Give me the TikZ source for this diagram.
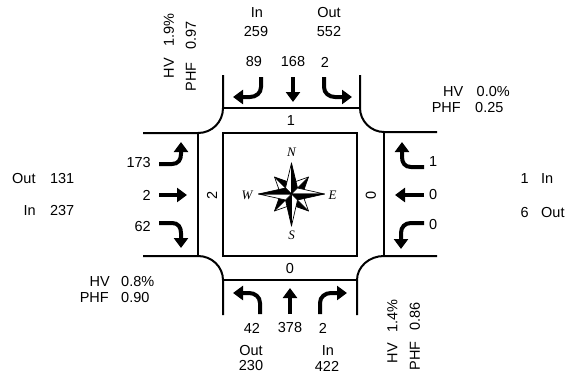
\documentclass[tikz,border=0pt]{standalone}
\usepackage{fontspec}
\setmainfont{Liberation Sans}
\newfontfamily\compassfont{Liberation Serif}
\usetikzlibrary{arrows.meta}
\begin{document}
\begin{tikzpicture}[x=1pt,y=-1pt,
  road/.style={line width=2pt},
  mv/.style={line width=4pt,-{Triangle[width=14pt,length=10pt]}},
  lbl/.style={inner sep=0pt,font=\fontsize{14.5}{17}\selectfont},
  cmp/.style={inner sep=0pt,font=\compassfont\itshape\fontsize{13}{15}\selectfont},
  rosew/.style={fill=white,draw=black,line width=0.7pt,line join=round},
  roseb/.style={fill=black,draw=black,line width=0.7pt,line join=round}
]
\useasboundingbox (0,0) rectangle (574,383);

% road edges with curved corners
\draw[road] (223,75) -- (223,108) .. controls (223,122) and (212,133) .. (198,133) -- (143,133);
\draw[road] (360,75) -- (360,108) .. controls (360,121) and (371,132) .. (384,132) -- (437,132);
\draw[road] (437,256) -- (384,256) .. controls (369,256) and (357,267) .. (357,280) -- (357,315);
\draw[road] (223,315) -- (223,280) .. controls (223,267) and (212,256) .. (198,256) -- (143,256);
% stop bars
\draw[road] (223,108) -- (360,108);
\draw[road] (384,132) -- (384,256);
\draw[road] (223,280) -- (357,280);
\draw[road] (198,133) -- (198,256);
% inner square
\draw[line width=2.4pt] (223,133) rectangle (357,256);

% lane counts
\node[lbl] (lnN) at (291,121) {1};
\node[lbl] (lnS) at (290,269) {0};
\node[lbl,rotate=90] (lnW) at (212,195) {2};
\node[lbl,rotate=90] (lnE) at (371,195) {0};

% north approach
\node[lbl] (nIn) at (257,13) {In};
\node[lbl] (nInV) at (256,32) {259};
\node[lbl] (nOut) at (329,13) {Out};
\node[lbl] (nOutV) at (329,32) {552};
\node[lbl] (nR) at (254,62) {89};
\node[lbl] (nT) at (293,62) {168};
\node[lbl] (nL) at (325,62) {2};
\draw[mv] (261,77) -- (261,87) .. controls (261,93) and (256,97) .. (250,97) -- (233,97);
\draw[mv] (293,77) -- (293,102);
\draw[mv] (324,77) -- (324,87) .. controls (324,93) and (329,97) .. (335,97) -- (352,97);

% south approach
\draw[mv] (260,314) -- (260,303) .. controls (260,297) and (255,293) .. (249,293) -- (233,293);
\draw[mv] (290,314) -- (290,288);
\draw[mv] (320,314) -- (320,303) .. controls (320,297) and (325,293) .. (331,293) -- (347,293);
\node[lbl] (sL) at (252,328) {42};
\node[lbl] (sT) at (290,328) {378};
\node[lbl] (sR) at (323,328) {2};
\node[lbl] (sOut) at (251,351) {Out};
\node[lbl] (sOutV) at (251,366) {230};
\node[lbl] (sIn) at (328,351) {In};
\node[lbl] (sInV) at (327,366) {422};

% west approach
\draw[mv] (159,164) -- (172,164) .. controls (178,164) and (181,160) .. (181,154) -- (181,142);
\draw[mv] (159,195) -- (187,195);
\draw[mv] (159,223) -- (172,223) .. controls (178,223) and (181,227) .. (181,233) -- (181,248);
\node[lbl,anchor=east] (wL) at (151,163) {173};
\node[lbl,anchor=east] (wT) at (151,195) {2};
\node[lbl,anchor=east] (wR) at (151,227) {62};
\node[lbl,anchor=west] (wOut) at (12,179) {Out};
\node[lbl,anchor=east] (wOutV) at (74.5,179) {131};
\node[lbl,anchor=west] (wIn) at (23.5,211) {In};
\node[lbl,anchor=east] (wInV) at (74.5,211) {237};

% east approach
\draw[mv] (424,167) -- (411,167) .. controls (405,167) and (402,163) .. (402,157) -- (402,142);
\draw[mv] (424,195) -- (395,195);
\draw[mv] (424,223) -- (411,223) .. controls (405,223) and (401,227) .. (401,233) -- (401,249);
\node[lbl,anchor=west] (eR) at (429,162) {1};
\node[lbl,anchor=west] (eT) at (429,195) {0};
\node[lbl,anchor=west] (eL) at (429,225) {0};
\node[lbl,anchor=east] (eInV) at (529,178.5) {1};
\node[lbl,anchor=west] (eIn) at (541,178.5) {In};
\node[lbl,anchor=east] (eOutV) at (529,212.5) {6};
\node[lbl,anchor=west] (eOut) at (541,212.5) {Out};

% HV / PHF blocks
\node[lbl,anchor=east] (neHV) at (463.5,92) {HV};
\node[lbl,anchor=west] (neHVv) at (476.5,92) {0.0\%};
\node[lbl,anchor=east] (nePHF) at (461,108) {PHF};
\node[lbl,anchor=west] (nePHFv) at (475,108) {0.25};

\node[lbl,anchor=east] (swHV) at (110,282) {HV};
\node[lbl,anchor=west] (swHVv) at (121,282) {0.8\%};
\node[lbl,anchor=east] (swPHF) at (109,298) {PHF};
\node[lbl,anchor=west] (swPHFv) at (121,298) {0.90};

\node[lbl,rotate=90,anchor=east] (nwHV) at (169,58) {HV};
\node[lbl,rotate=90,anchor=west] (nwHVv) at (169,47) {1.9\%};
\node[lbl,rotate=90,anchor=east] (nwPHF) at (191,62) {PHF};
\node[lbl,rotate=90,anchor=west] (nwPHFv) at (191,50) {0.97};

\node[lbl,rotate=90,anchor=east] (seHV) at (392.5,343) {HV};
\node[lbl,rotate=90,anchor=west] (seHVv) at (392.5,333) {1.4\%};
\node[lbl,rotate=90,anchor=east] (sePHF) at (415,341) {PHF};
\node[lbl,rotate=90,anchor=west] (sePHFv) at (415,331) {0.86};

% compass rose
\begin{scope}[shift={(291.5,194)}]
  % diagonal points
  \foreach \a in {0,90,180,270}{
    \begin{scope}[rotate=\a]
      \draw[rosew] (0,0) -- (3,-12) -- (17,-17) -- (12,-3) -- cycle;
      \draw[line width=0.7pt] (0,0) -- (17,-17);
      \fill[black] (0,0) -- (17,-17) -- (12,-3) -- cycle;
    \end{scope}
  }
  % main points
  \draw[rosew] (0,0) -- (-6,-6) -- (0,-31) -- cycle;
  \draw[roseb] (0,0) -- (0,-31) -- (6,-6) -- cycle;
  \draw[rosew] (0,0) -- (6,-6) -- (33,0) -- cycle;
  \draw[roseb] (0,0) -- (33,0) -- (6,6) -- cycle;
  \draw[rosew] (0,0) -- (6,6) -- (0,32) -- cycle;
  \draw[roseb] (0,0) -- (0,32) -- (-6,6) -- cycle;
  \draw[rosew] (0,0) -- (-6,6) -- (-33,0) -- cycle;
  \draw[roseb] (0,0) -- (-33,0) -- (-6,-6) -- cycle;
\end{scope}
\node[cmp] (cN) at (291.5,152) {N};
\node[cmp] (cS) at (291.5,235) {S};
\node[cmp] (cW) at (247,195) {W};
\node[cmp] (cE) at (332.5,195) {E};
\end{tikzpicture}
\end{document}
